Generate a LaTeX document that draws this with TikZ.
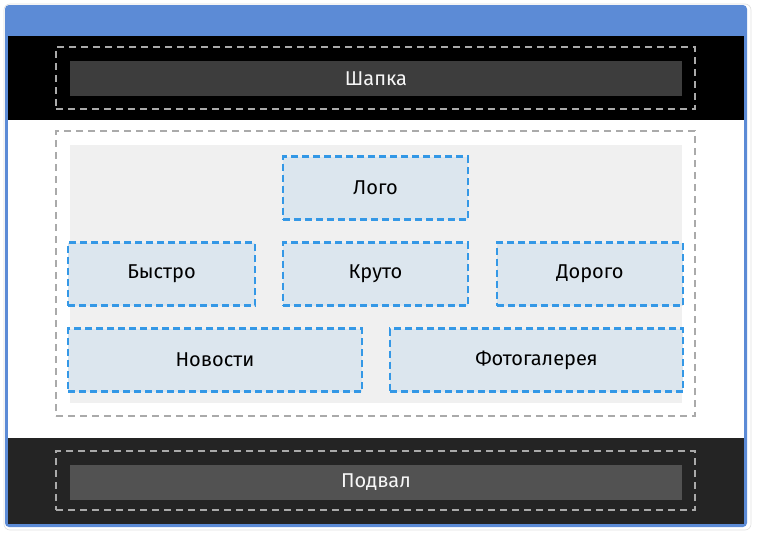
\documentclass[tikz,border=0pt]{standalone}
\usepackage{fontspec}
\setmainfont{Fira Sans}
\usepackage{tikz}
\usetikzlibrary{positioning}
\usepackage{xcolor}
\definecolor{framebl}{RGB}{92,139,214}
\definecolor{slotbl}{RGB}{52,152,230}
\definecolor{slotfill}{RGB}{220,230,238}
\definecolor{zonegray}{RGB}{170,170,170}
\definecolor{pagegray}{RGB}{240,240,240}

\begin{document}
\begin{tikzpicture}[x=1pt,y=-1pt,
  zone/.style={draw=zonegray,line width=2.2pt,dash pattern=on 7pt off 5pt,minimum width=639pt,inner sep=0pt},
  bar/.style={minimum width=612pt,minimum height=35pt,inner sep=0pt,text=black!3,font=\fontsize{20}{23}\selectfont},
  slot/.style={draw=slotbl,fill=slotfill,line width=2.5pt,dash pattern=on 7pt off 4pt,minimum height=63pt,inner sep=0pt,font=\fontsize{20}{23}\selectfont}]
\useasboundingbox (0,0) rectangle (758,538);
\fill[white] (0,0) rectangle (758,538);
% window frame
\draw[black!12,line width=0.6pt,rounded corners=6pt] (4,4) rectangle (751,530);
\fill[framebl,rounded corners=4pt] (5,5) rectangle (747,527);
\fill[black] (8,36) rectangle (744,120);
\fill[white] (8,120) rectangle (744,438);
\fill[black!86] (8,438) rectangle (744,524);
% header
\node[zone,minimum height=62pt] (headzone) at (375.5,78) {};
\node[bar,fill=black!76] (head) at (376,78.5) {Шапка};
% content
\node[zone,minimum height=285pt] (mainzone) at (375.5,273.5) {};
\node[fill=pagegray,minimum width=612pt,minimum height=258pt,inner sep=0pt] (page) at (376,274) {};
\node[slot,minimum width=185pt] (logo) at (375.5,188) {Лого};
\node[slot,minimum width=187pt] (fast) at (161.5,274) {Быстро};
\node[slot,minimum width=185pt] (cool) at (375.5,274) {Круто};
\node[slot,minimum width=186pt] (dear) at (590,274) {Дорого};
\node[slot,minimum width=294pt] (news) at (215,360) {Новости};
\node[slot,minimum width=293pt] (gallery) at (536.5,360) {Фотогалерея};
% footer
\node[zone,minimum height=59pt] (footzone) at (375.5,480.5) {};
\node[bar,fill=black!68] (foot) at (376,482) {Подвал};
\end{tikzpicture}
\end{document}
